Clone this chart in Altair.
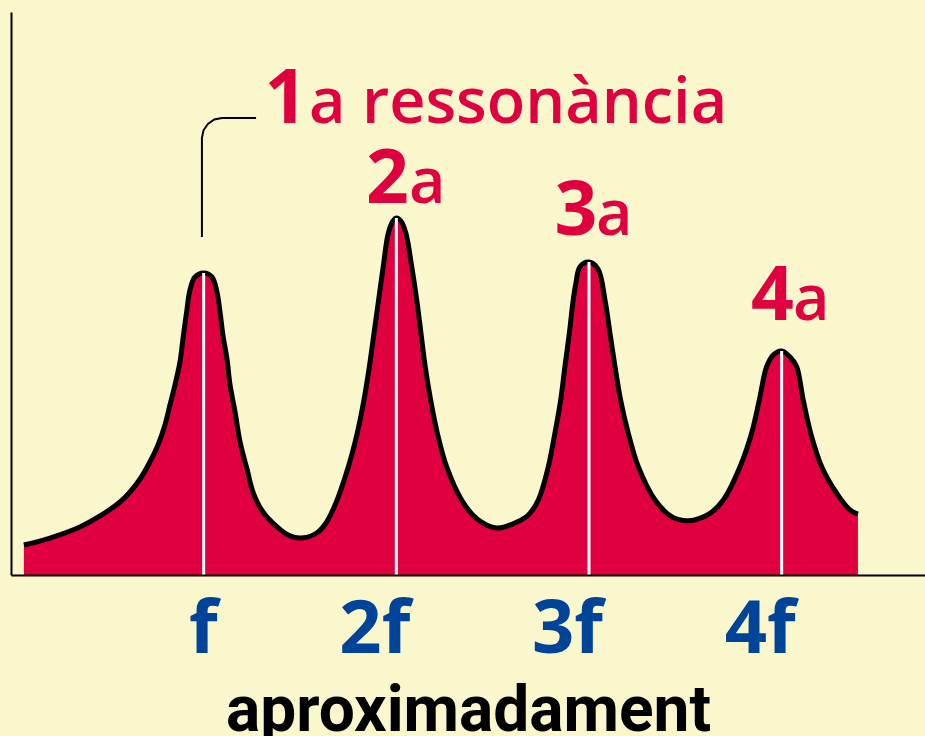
import altair as alt
import pandas as pd

# Response curve: frequency in multiples of the fundamental f, amplitude in % of axis height
freq = [0.067, 0.202, 0.358, 0.462, 0.566, 0.618, 0.670, 0.721, 0.763, 0.799,
        0.825, 0.851, 0.877, 0.893, 0.913, 0.929, 0.955, 1.0, 1.043, 1.069,
        1.085, 1.100, 1.121, 1.137, 1.163, 1.189, 1.225, 1.256, 1.308, 1.381,
        1.438, 1.500,
        1.587, 1.635, 1.682, 1.751, 1.797, 1.832, 1.860, 1.884, 1.908, 1.932,
        1.958, 1.983, 2.0, 2.024, 2.050, 2.080, 2.106, 2.128, 2.150, 2.178,
        2.213, 2.261, 2.339, 2.419, 2.521,
        2.626, 2.685, 2.737, 2.789, 2.823, 2.853, 2.875, 2.898, 2.918, 2.932,
        2.953, 3.0, 3.047, 3.083, 3.109, 3.135, 3.164, 3.204, 3.256, 3.343,
        3.429, 3.515,
        3.628, 3.697, 3.784, 3.844, 3.884, 3.922, 3.956, 4.0, 4.048, 4.078,
        4.112, 4.151, 4.208, 4.286, 4.355, 4.396]
amplitude = [5.33, 6.57, 8.53, 10.48, 12.97, 14.74, 17.05, 20.07, 23.09, 26.64,
             30.20, 33.75, 37.83, 42.10, 47.07, 50.62, 52.93, 53.64, 52.93, 50.27,
             46.71, 42.63, 38.37, 33.75, 28.95, 23.62, 18.83, 14.74, 11.19, 8.53,
             7.10, 6.57,
             7.46, 9.24, 12.43, 19.24, 25.17, 31.08, 37.00, 42.93, 48.85, 54.76,
             60.69, 62.88, 63.41, 62.88, 60.69, 54.76, 48.85, 42.93, 37.00, 31.08,
             25.17, 19.24, 13.32, 9.95, 8.35,
             9.41, 10.66, 13.32, 19.24, 25.17, 31.08, 37.00, 42.93, 48.85, 51.81,
             54.76, 55.60, 54.35, 48.85, 42.93, 37.00, 31.08, 25.17, 19.24, 13.32,
             10.36, 9.64,
             10.96, 13.32, 19.24, 25.17, 31.08, 37.00, 39.08, 39.79, 38.54, 37.00,
             31.08, 25.17, 19.24, 14.51, 11.55, 10.83]

# Resonance peaks and their frequency labels
peak_freq = [1, 2, 3, 4]
peak_amp = [53.64, 63.41, 55.60, 39.79]
freq_labels = ["f", "2f", "3f", "4f"]
freq_label_y = [-13.85, -13.85, -13.85, -13.85]

# Ordinal labels above the peaks
ord_digits = ["1", "2", "3", "4"]
ord_digit_x = [1.427, 1.954, 2.932, 3.952]
ord_suffix = ["a ressonància", "a", "a", "a"]
ord_suffix_x = [1.547, 2.066, 3.036, 4.059]
ord_y = [80.28, 66.07, 60.39, 45.29]

# Leader from the first label down to the first peak
leader_f = [0.991, 0.991, 0.999, 1.022, 1.055, 1.095, 1.272]
leader_a = [60.04, 77.62, 78.99, 80.12, 80.91, 81.17, 81.17]

CREAM = "#FAF7CD"
CRIMSON = "#E1003F"
BLUE = "#00449A"
FONT = "Open Sans"

curve = pd.DataFrame({"freq": freq, "amp": amplitude})
peaks = pd.DataFrame({"freq": peak_freq, "amp": peak_amp,
                      "label": freq_labels, "ly": freq_label_y})
digits = pd.DataFrame({"freq": ord_digit_x, "amp": ord_y, "t": ord_digits})
suffixes = pd.DataFrame({"freq": ord_suffix_x, "amp": ord_y, "t": ord_suffix})
leader = pd.DataFrame({"freq": leader_f, "amp": leader_a, "i": range(len(leader_f))})

xscale = alt.Scale(domain=[0, 4.744], nice=False, zero=False)
yscale = alt.Scale(domain=[0, 100], nice=False)

x_axis = alt.Axis(
    values=[1, 2, 3, 4],
    ticks=False, tickSize=0, grid=False, labels=False,
    domainColor="black", domainWidth=2,
    title="aproximadament",
    titleFont="Roboto", titleFontSize=64, titleFontWeight="bold",
    titleColor="black", titleBaseline="alphabetic", titleY=155, titleX=457,
    zindex=1,
)
y_axis = alt.Axis(ticks=False, labels=False, grid=False, title=None,
                  domainColor="black", domainWidth=2)

X = alt.X("freq:Q", scale=xscale, axis=x_axis)
Y = alt.Y("amp:Q", scale=yscale, axis=y_axis)
SMOOTH = "catmull-rom"

area = alt.Chart(curve).mark_area(color=CRIMSON, interpolate=SMOOTH).encode(x=X, y=Y)

outline = alt.Chart(curve).mark_line(
    color="black", strokeWidth=5, interpolate=SMOOTH, strokeJoin="round"
).encode(x=X, y=Y)

rules = alt.Chart(peaks).mark_rule(color="white", strokeWidth=3).encode(
    x=X, y=Y, y2=alt.datum(0),
)

freq_text = alt.Chart(peaks).mark_text(
    font=FONT, fontWeight="bold", fontSize=74, color=BLUE,
    align="right", baseline="alphabetic", dx=14,
).encode(
    x=X,
    y=alt.Y("ly:Q", scale=yscale, axis=y_axis),
    text="label:N",
)

leader_line = alt.Chart(leader).mark_line(color="black", strokeWidth=2).encode(
    x=X, y=Y, order="i:O",
)

digit_text = alt.Chart(digits).mark_text(
    font=FONT, fontWeight="bold", fontSize=75, color=CRIMSON,
    align="center", baseline="alphabetic",
).encode(x=X, y=Y, text="t:N")

suffix_text = alt.Chart(suffixes).mark_text(
    font=FONT, fontWeight=600, fontSize=63, color=CRIMSON,
    align="left", baseline="alphabetic",
).encode(x=X, y=Y, text="t:N")

chart = alt.layer(
    area, outline, rules, freq_text, leader_line, digit_text, suffix_text
).properties(
    width=914,
    height=563,
    padding={"left": 11, "top": 12, "right": 0, "bottom": 161},
    autosize=alt.AutoSizeParams(type="none"),
    background=CREAM,
).configure_view(stroke=None)

chart.save("out.html", embed_options={"renderer": "svg", "actions": False})
